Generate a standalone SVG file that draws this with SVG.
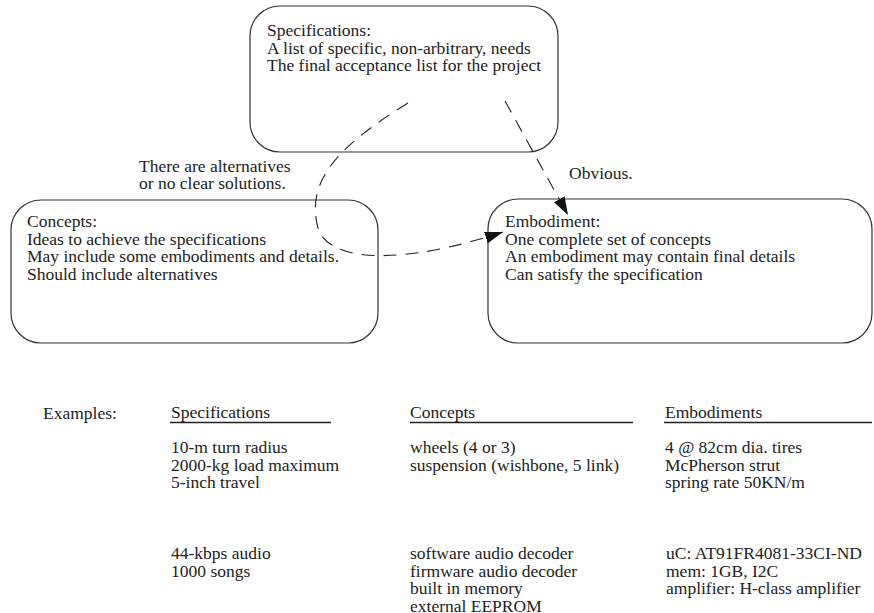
<svg xmlns="http://www.w3.org/2000/svg" width="874" height="613" viewBox="0 0 874 613">
  <style>
    text { font-family: "Liberation Serif", "Times New Roman", "DejaVu Serif", serif; font-size: 17.5px; fill: #222; }
    .box { fill: none; stroke: #333; stroke-width: 1.2; }
    .flow { fill: none; stroke: #222; stroke-width: 1.1; stroke-dasharray: 13 9; }
    .rule { stroke: #222; stroke-width: 1.5; }
  </style>
  <defs>
    <marker id="arrow" viewBox="0 0 18 12" refX="18" refY="6" markerWidth="18" markerHeight="12" markerUnits="userSpaceOnUse" orient="auto">
      <path d="M0,0 L18,6 L0,12 Z" fill="#111"/>
    </marker>
  </defs>

  <rect width="874" height="613" fill="#fff"/>

  <g id="specifications" font-family="Liberation Serif, serif">
    <rect class="box" x="250" y="6" width="308" height="146" rx="30" ry="30"/>
    <text x="267" y="36">Specifications:</text>
    <text x="267" y="53.5">A list of specific, non-arbitrary, needs</text>
    <text x="267" y="71">The final acceptance list for the project</text>
  </g>

  <g id="concepts" font-family="Liberation Serif, serif">
    <rect class="box" x="11" y="200" width="367" height="143" rx="30" ry="30"/>
    <text x="27" y="227">Concepts:</text>
    <text x="27" y="244.5">Ideas to achieve the specifications</text>
    <text x="27" y="262">May include some embodiments and details.</text>
    <text x="27" y="279.5">Should include alternatives</text>
  </g>

  <g id="embodiment" font-family="Liberation Serif, serif">
    <rect class="box" x="488" y="199" width="384" height="144" rx="30" ry="30"/>
    <text x="505" y="227">Embodiment:</text>
    <text x="505" y="244.5">One complete set of concepts</text>
    <text x="505" y="262">An embodiment may contain final details</text>
    <text x="505" y="279.5">Can satisfy the specification</text>
  </g>

  <g id="connectors">
    <path class="flow" d="M408,103 C340,145 305,180 318,228 C328,262 400,266 503,232" marker-end="url(#arrow)"/>
    <path class="flow" d="M505,101 L568,215" marker-end="url(#arrow)"/>
    <text x="139" y="172">There are alternatives</text>
    <text x="139" y="189">or no clear solutions.</text>
    <text x="569" y="179">Obvious.</text>
  </g>

  <g id="examples">
    <text x="43" y="419">Examples:</text>

    <text x="171" y="418">Specifications</text>
    <line class="rule" x1="170" y1="422.5" x2="331" y2="422.5"/>
    <text x="410" y="418">Concepts</text>
    <line class="rule" x1="410" y1="422.5" x2="633" y2="422.5"/>
    <text x="665" y="418">Embodiments</text>
    <line class="rule" x1="664" y1="422.5" x2="872" y2="422.5"/>

    <text x="171" y="453">10-m turn radius</text>
    <text x="171" y="470.5">2000-kg load maximum</text>
    <text x="171" y="488">5-inch travel</text>

    <text x="410" y="453">wheels (4 or 3)</text>
    <text x="410" y="470.5">suspension (wishbone, 5 link)</text>

    <text x="665" y="453">4 @ 82cm dia. tires</text>
    <text x="665" y="470.5">McPherson strut</text>
    <text x="665" y="488">spring rate 50KN/m</text>

    <text x="171" y="559">44-kbps audio</text>
    <text x="171" y="576.5">1000 songs</text>

    <text x="410" y="559">software audio decoder</text>
    <text x="410" y="576.5">firmware audio decoder</text>
    <text x="410" y="594">built in memory</text>
    <text x="410" y="611.5">external EEPROM</text>

    <text x="666" y="559">uC: AT91FR4081-33CI-ND</text>
    <text x="666" y="576.5">mem: 1GB, I2C</text>
    <text x="666" y="594">amplifier: H-class amplifier</text>
  </g>
</svg>
